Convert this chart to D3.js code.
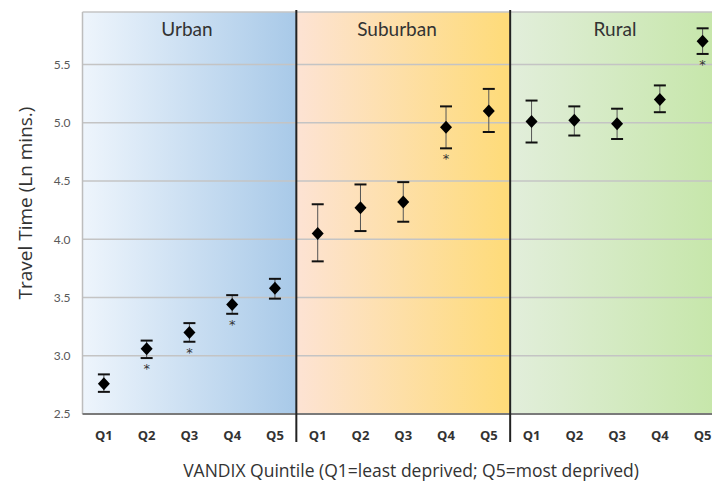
<!DOCTYPE html>
<html><head><meta charset="utf-8">
<script src="https://cdn.jsdelivr.net/npm/d3@7"></script>
<style>body{margin:0;background:#fff}svg{display:block}</style>
</head><body>
<svg id="c" width="712" height="483"></svg>
<script>
const groups = ["Urban", "Suburban", "Rural"];
const quintiles = ["Q1", "Q2", "Q3", "Q4", "Q5"];
const urbanMean = [2.76, 3.06, 3.20, 3.44, 3.58];
const urbanLow  = [2.69, 2.98, 3.12, 3.36, 3.49];
const urbanHigh = [2.84, 3.13, 3.28, 3.52, 3.66];
const suburbanMean = [4.05, 4.27, 4.32, 4.96, 5.10];
const suburbanLow  = [3.81, 4.07, 4.15, 4.78, 4.92];
const suburbanHigh = [4.30, 4.47, 4.49, 5.14, 5.29];
const ruralMean = [5.01, 5.02, 4.99, 5.20, 5.70];
const ruralLow  = [4.83, 4.89, 4.86, 5.09, 5.59];
const ruralHigh = [5.19, 5.14, 5.12, 5.32, 5.81];
const urbanSig = [false, true, true, true, false];
const suburbanSig = [false, false, false, true, false];
const ruralSig = [false, false, false, false, true];
const yTicks = [2.5, 3.0, 3.5, 4.0, 4.5, 5.0, 5.5];
const yTitle = "Travel Time (Ln mins.)";
const xTitle = "VANDIX Quintile (Q1=least deprived; Q5=most deprived)";

(function () {
const series = [
  {g: "Urban", mean: urbanMean, low: urbanLow, high: urbanHigh, sig: urbanSig},
  {g: "Suburban", mean: suburbanMean, low: suburbanLow, high: suburbanHigh, sig: suburbanSig},
  {g: "Rural", mean: ruralMean, low: ruralLow, high: ruralHigh, sig: ruralSig}
];
const gradColors = {
  Urban: ["#eef5fc", "#a8c9e8"],
  Suburban: ["#fde3d4", "#fedb78"],
  Rural: ["#e2eedb", "#c5e6a8"]
};

const svg = d3.select("#c");
const pLeft = 82.5, pTop = 12, pBottom = 414, pRight = 724;
const gx = d3.scaleBand().domain(groups).range([pLeft, pRight]);
const qx = d3.scaleBand().domain(quintiles).range([0, gx.bandwidth()]);
const y = d3.scaleLinear().domain([2.5, 5.95]).range([pBottom, pTop]);

const defs = svg.append("defs");
groups.forEach(g => {
  const lg = defs.append("linearGradient").attr("id", "grad-" + g).attr("x1", "0%").attr("x2", "100%");
  lg.append("stop").attr("offset", "0%").attr("stop-color", gradColors[g][0]);
  lg.append("stop").attr("offset", "100%").attr("stop-color", gradColors[g][1]);
});

svg.selectAll("rect.bg").data(groups).join("rect")
  .attr("x", d => gx(d)).attr("y", pTop)
  .attr("width", gx.bandwidth()).attr("height", pBottom - pTop)
  .attr("fill", d => `url(#grad-${d})`);

svg.append("g").selectAll("line").data(yTicks.filter(t => t > 2.5)).join("line")
  .attr("x1", pLeft).attr("x2", 712).attr("y1", d => y(d)).attr("y2", d => y(d))
  .attr("stroke", "#c4c4c4").attr("stroke-width", 1.5);
svg.append("line").attr("x1", pLeft).attr("x2", 712).attr("y1", pTop).attr("y2", pTop)
  .attr("stroke", "#c4c4c4").attr("stroke-width", 1.5);
svg.append("line").attr("x1", pLeft).attr("x2", pLeft).attr("y1", pTop).attr("y2", pBottom)
  .attr("stroke", "#bdbdbd").attr("stroke-width", 1.5);
svg.append("line").attr("x1", pLeft).attr("x2", 712).attr("y1", pBottom).attr("y2", pBottom)
  .attr("stroke", "#7a7a7a").attr("stroke-width", 2);

const yAxis = svg.append("g").attr("transform", `translate(${pLeft},0)`)
  .call(d3.axisLeft(y).tickValues(yTicks).tickFormat(d3.format(".1f")).tickSize(0).tickPadding(12));
yAxis.select(".domain").remove();
yAxis.selectAll("text").attr("font-family", "Lato, sans-serif").attr("font-size", 12).attr("fill", "#595959");

svg.selectAll("line.div").data(groups.slice(1)).join("line")
  .attr("x1", d => gx(d)).attr("x2", d => gx(d)).attr("y1", 10).attr("y2", 442)
  .attr("stroke", "#222").attr("stroke-width", 2);

const titleX = {Urban: 187, Suburban: 397, Rural: 615};
svg.selectAll("text.pt").data(groups).join("text")
  .attr("x", d => titleX[d]).attr("y", 36)
  .attr("text-anchor", "middle").attr("font-family", "Lato, sans-serif").attr("font-size", 19)
  .attr("fill", "#333").text(d => d);

series.forEach(s => {
  const g = svg.append("g").attr("transform", `translate(${gx(s.g)},0)`);
  g.selectAll("text.q").data(quintiles).join("text")
    .attr("x", d => qx(d) + qx.bandwidth() / 2).attr("y", 440)
    .attr("text-anchor", "middle").attr("font-family", "Open Sans, sans-serif")
    .attr("font-weight", "bold").attr("font-size", 13).attr("fill", "#333").text(d => d);

  const pts = quintiles.map((q, i) => ({q, m: s.mean[i], lo: s.low[i], hi: s.high[i], sig: s.sig[i]}));
  const cx = d => qx(d.q) + qx.bandwidth() / 2;
  g.selectAll("line.v").data(pts).join("line")
    .attr("x1", cx).attr("x2", cx).attr("y1", d => y(d.lo)).attr("y2", d => y(d.hi))
    .attr("stroke", "#555").attr("stroke-width", 1);
  g.selectAll("line.cl").data(pts).join("line").attr("class", "cl")
    .attr("x1", d => cx(d) - 6).attr("x2", d => cx(d) + 6).attr("y1", d => y(d.lo)).attr("y2", d => y(d.lo))
    .attr("stroke", "#111").attr("stroke-width", 2);
  g.selectAll("line.ch").data(pts).join("line").attr("class", "ch")
    .attr("x1", d => cx(d) - 6).attr("x2", d => cx(d) + 6).attr("y1", d => y(d.hi)).attr("y2", d => y(d.hi))
    .attr("stroke", "#111").attr("stroke-width", 2);
  g.selectAll("path.dm").data(pts).join("path").attr("class", "dm")
    .attr("d", d => { const x0 = cx(d), y0 = y(d.m); return `M${x0},${y0-6.5}L${x0+6},${y0}L${x0},${y0+6.5}L${x0-6},${y0}Z`; })
    .attr("fill", "#000");
  g.selectAll("text.st").data(pts.filter(d => d.sig)).join("text").attr("class", "st")
    .attr("x", cx).attr("y", d => y(d.lo) + 15).attr("text-anchor", "middle")
    .attr("font-family", "DejaVu Sans, sans-serif").attr("font-size", 13).attr("fill", "#333").text("*");
});

svg.append("text").attr("transform", "translate(32,203) rotate(-90)")
  .attr("text-anchor", "middle").attr("font-family", "Open Sans, sans-serif").attr("font-size", 19)
  .attr("fill", "#333").text(yTitle);
svg.append("text").attr("x", 411).attr("y", 477)
  .attr("text-anchor", "middle").attr("font-family", "Open Sans, sans-serif").attr("font-size", 17.5)
  .attr("fill", "#333").text(xTitle);
})();
</script>
</body></html>
